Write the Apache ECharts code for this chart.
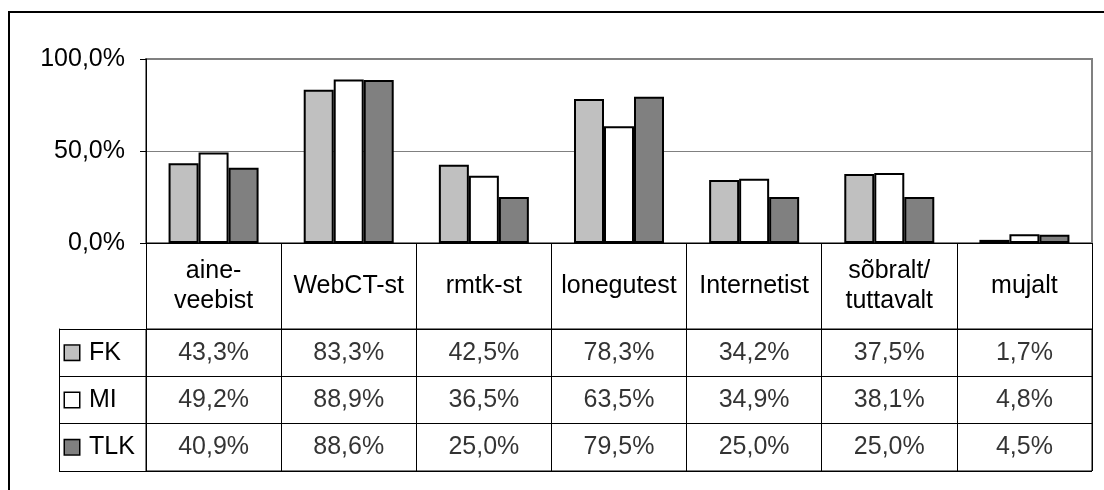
<!DOCTYPE html>
<html><head><meta charset="utf-8">
<script src="https://cdn.jsdelivr.net/npm/echarts@6/dist/echarts.min.js"></script>
<style>html,body{margin:0;padding:0;background:#fff}#c{width:1104px;height:490px}</style>
</head><body><div id="c"></div>
<script>
const categories = ['aine-\nveebist','WebCT-st','rmtk-st','lonegutest','Internetist','sõbralt/\ntuttavalt','mujalt'];
const seriesNames = ['FK','MI','TLK'];
const fk  = [43.3, 83.3, 42.5, 78.3, 34.2, 37.5, 1.7];
const mi  = [49.2, 88.9, 36.5, 63.5, 34.9, 38.1, 4.8];
const tlk = [40.9, 88.6, 25.0, 79.5, 25.0, 25.0, 4.5];
const yMin = 0, yMax = 100, yStep = 50;
const colors = ['#C0C0C0', '#FFFFFF', '#808080'];

const FONT = "'Liberation Sans', Arial, sans-serif";
const FS = 25;
const seriesValues = [fk, mi, tlk];
const fmt = v => v.toFixed(1).replace('.', ',') + '%';

const chart = echarts.init(document.getElementById('c'), null, {renderer: 'canvas'});

const rich = {t: {fontSize: FS, fontFamily: FONT, color: '#000', padding: [0, 0, 0, 10]}};
colors.forEach((c, i) => {
  rich['s' + i] = {width: 14, height: 14, backgroundColor: c, borderColor: '#000', borderWidth: 1.5};
});

const series = [];
seriesValues.forEach((vals, s) => {
  series.push({
    name: seriesNames[s], type: 'bar', xAxisIndex: 0, yAxisIndex: 0,
    data: vals, barWidth: 30, barGap: '0%',
    itemStyle: {color: colors[s], borderColor: '#000', borderWidth: 2},
    silent: true
  });
});
seriesValues.forEach((vals, s) => {
  series.push({
    type: 'scatter', xAxisIndex: 1, yAxisIndex: 1, symbolSize: 1,
    itemStyle: {color: 'transparent'}, silent: true,
    data: vals.map((v, i) => [i, s, v]),
    label: {show: true, position: 'inside', formatter: p => fmt(p.value[2]),
      fontSize: FS, fontFamily: FONT, color: '#000'}
  });
});

chart.setOption({
  animation: false,
  backgroundColor: '#fff',
  textStyle: {fontFamily: FONT},
  graphic: [{type: 'rect', shape: {x: 9, y: 12, width: 1300, height: 700},
    style: {fill: 'none', stroke: '#000', lineWidth: 2}, silent: true}],
  grid: [
    {left: 146, right: 12, top: 59, height: 184, show: true, borderColor: '#808080', borderWidth: 2, backgroundColor: 'transparent'},
    {left: 146, right: 12, top: 329, height: 142, show: true, borderColor: '#000', borderWidth: 1, backgroundColor: 'transparent'}
  ],
  xAxis: [
    {gridIndex: 0, type: 'category', data: categories,
      axisLine: {show: true, lineStyle: {color: '#000', width: 1}},
      axisTick: {show: true, interval: 0, length: 86, lineStyle: {color: '#000', width: 1}},
      axisLabel: {interval: 0, margin: 43, verticalAlign: 'middle', lineHeight: 30,
        fontSize: FS, fontFamily: FONT, color: '#000'},
      splitLine: {show: false}},
    {gridIndex: 1, type: 'category', data: categories,
      axisLine: {show: false}, axisTick: {show: false}, axisLabel: {show: false},
      splitLine: {show: true, interval: 0, lineStyle: {color: '#000', width: 1}}}
  ],
  yAxis: [
    {gridIndex: 0, type: 'value', min: yMin, max: yMax, interval: yStep,
      axisLine: {show: true, lineStyle: {color: '#000', width: 1}},
      axisTick: {show: true, length: 6, lineStyle: {color: '#000'}},
      axisLabel: {margin: 21, fontSize: FS, fontFamily: FONT, color: '#000', formatter: v => fmt(v)},
      splitLine: {show: true, lineStyle: {color: '#808080', width: 1}}},
    {gridIndex: 1, type: 'category', data: seriesNames, inverse: true,
      axisLine: {show: true, lineStyle: {color: '#000', width: 1}},
      axisTick: {show: true, interval: 0, length: 87, lineStyle: {color: '#000', width: 1}},
      axisLabel: {interval: 0, align: 'left', margin: 81,
        formatter: (v, i) => '{s' + i + '|}{t|' + v + '}', rich: rich},
      splitLine: {show: true, interval: 0, lineStyle: {color: '#000', width: 1}}},
    {gridIndex: 1, type: 'category', data: seriesNames, inverse: true, position: 'left', offset: 87,
      axisLine: {show: true, lineStyle: {color: '#000', width: 1}},
      axisTick: {show: false}, axisLabel: {show: false}, splitLine: {show: false}}
  ],
  series: series
});
</script>
</body></html>
